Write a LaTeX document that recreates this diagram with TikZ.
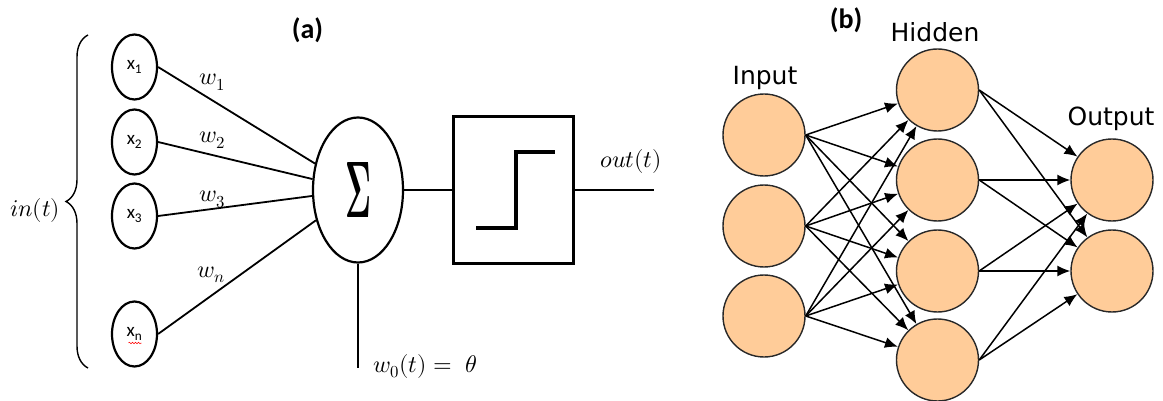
\documentclass[tikz,border=0pt]{standalone}
\usepackage{fontspec}
\usepackage{unicode-math}
\usetikzlibrary{arrows.meta,decorations.pathreplacing,decorations.pathmorphing,shapes.geometric}
\newfontfamily\carl{Carlito}
\newfontfamily\dvs{DejaVu Sans}
\definecolor{peach}{RGB}{255,204,153}
\definecolor{rimgray}{RGB}{40,40,40}
\begin{document}
\begin{tikzpicture}[x=1pt,y=-1pt,
  inpnode/.style={ellipse,draw,line width=2.2pt,minimum width=45pt,minimum height=65pt,inner sep=0pt,font=\carl\fontsize{19}{21}\selectfont},
  sumnode/.style={ellipse,draw,line width=2.2pt,minimum width=90pt,minimum height=145pt,inner sep=0pt},
  wline/.style={line width=1.8pt},
  mlabel/.style={inner sep=0pt,font=\fontsize{24}{28}\selectfont},
  panel/.style={inner sep=0pt,font=\carl\bfseries\fontsize{28}{32}\selectfont},
  neuron/.style={circle,draw=rimgray,fill=peach,line width=1.4pt,minimum size=82pt,inner sep=0pt},
  layerlabel/.style={inner sep=0pt,font=\dvs\fontsize{25}{30}\selectfont},
  conn/.style={line width=1.5pt,-{Latex[length=13pt,width=11pt]}}
]
\useasboundingbox (0,0) rectangle (1163,401);

% ---------- panel (a) ----------
\node[panel,anchor=base] (pa) at (307.5,39) {(a)};

\draw[line width=1.4pt,decorate,decoration={brace,amplitude=22pt}] (88,368) -- (88,35);
\node[mlabel,anchor=base west] (inlab) at (10,217) {$in(t)$};

\node[inpnode] (x1) at (134.5,67) {x\textsubscript{1}};
\node[inpnode] (x2) at (134.5,142) {x\textsubscript{2}};
\node[inpnode] (x3) at (134.5,216) {x\textsubscript{3}};
\node[inpnode] (xn) at (134.5,334) {x\textsubscript{n}};
\draw[red,line width=0.5pt,decorate,decoration={snake,amplitude=0.8pt,segment length=3pt}] ([xshift=-6pt,yshift=-9pt]xn.center) -- ([xshift=7pt,yshift=-9pt]xn.center);

\node[sumnode] (sum) at (358,190) {\resizebox*{26pt}{55pt}{$\symbf{\Sigma}$}};

\draw[wline] (x1.east) -- (sum);
\draw[wline] (x2.east) -- (sum);
\draw[wline] (x3.east) -- (sum);
\draw[wline] (xn.east) -- (sum);

\node[mlabel,anchor=base west] (lw1) at (199,85) {$w_1$};
\node[mlabel,anchor=base west] (lw2) at (199,143) {$w_2$};
\node[mlabel,anchor=base west] (lw3) at (199,202) {$w_3$};
\node[mlabel,anchor=base west] (lwn) at (197,277) {$w_n$};

\coordinate (bias) at (358,368);
\draw[wline] (sum.south) -- (bias);
\node[mlabel,anchor=base west] (lw0) at (373,372) {$w_0(t) = \ \theta$};

\node[draw,line width=3pt,minimum width=120pt,minimum height=146pt,inner sep=0pt] (step) at (513,190) {};
\draw[wline] (sum.east) -- (step.west);
\draw[line width=4pt] (476,228) -- (516,228) -- (516,152) -- (555,152);

\coordinate (outend) at (654,190);
\draw[wline] (step.east) -- (outend);
\node[mlabel,anchor=base west] (outlab) at (600,168) {$out(t)$};

% ---------- panel (b) ----------
\node[panel,anchor=base] (pb) at (846,29) {(b)};

\node[neuron] (i1) at (764,135) {};
\node[neuron] (i2) at (764,226) {};
\node[neuron] (i3) at (764,316) {};

\node[neuron] (h1) at (937.5,90) {};
\node[neuron] (h2) at (937.5,180) {};
\node[neuron] (h3) at (937.5,271) {};
\node[neuron] (h4) at (937.5,360) {};

\node[neuron] (o1) at (1112,180) {};
\node[neuron] (o2) at (1112,271) {};

\node[layerlabel,anchor=base] (linp) at (765,85) {Input};
\node[layerlabel,anchor=base] (lhid) at (935,42) {Hidden};
\node[layerlabel,anchor=base] (lout) at (1111,126) {Output};

\foreach \i in {i1,i2,i3}{
  \foreach \h in {h1,h2,h3,h4}{
    \draw[conn] (\i.east) -- (\h);
  }
}
\foreach \h in {h1,h2,h3,h4}{
  \foreach \o in {o1,o2}{
    \draw[conn] (\h.east) -- (\o);
  }
}
\end{tikzpicture}
\end{document}
